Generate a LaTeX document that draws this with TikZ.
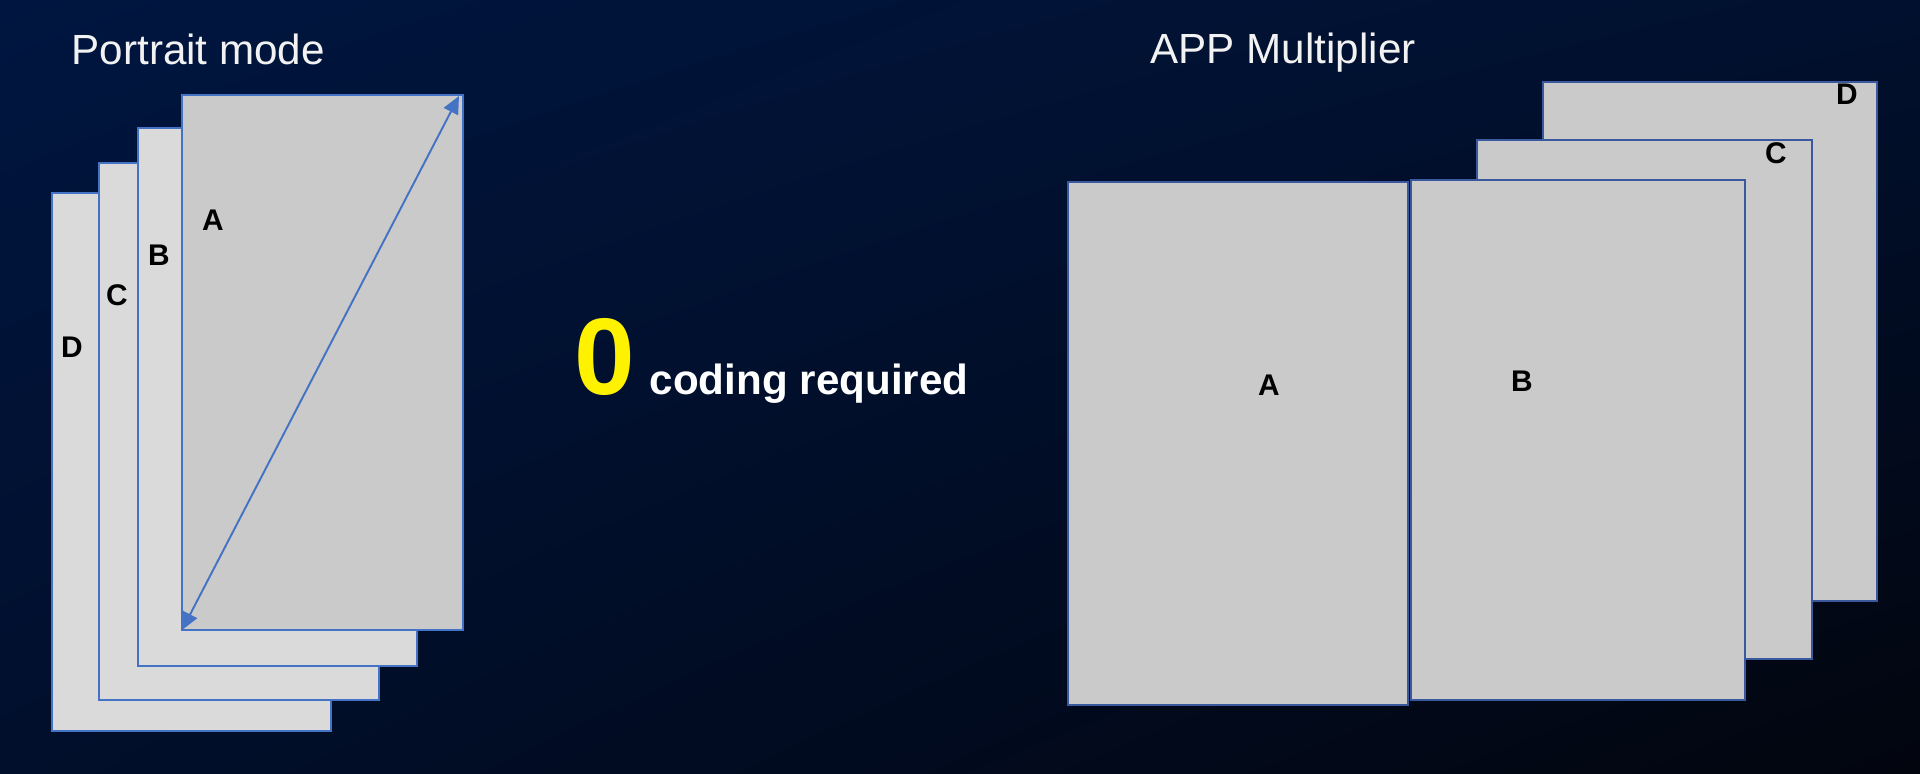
\documentclass[tikz,border=0pt]{standalone}
\usepackage{fontspec}
\setmainfont{Liberation Sans}
\usepackage{xcolor}
\usetikzlibrary{arrows.meta, positioning, shadings}

\definecolor{bgtl}{RGB}{0,22,64}
\definecolor{bgtr}{RGB}{1,16,46}
\definecolor{bgbl}{RGB}{1,15,44}
\definecolor{bgbr}{RGB}{2,5,14}
\definecolor{edge}{RGB}{68,114,196}
\definecolor{edgedark}{RGB}{58,88,158}
\definecolor{pagelight}{RGB}{218,218,218}
\definecolor{pagegrey}{RGB}{202,202,202}
\definecolor{titlewhite}{RGB}{242,242,242}

\tikzset{
    page/.style={draw=edge, line width=0.5pt, inner sep=0pt, outer sep=0pt, anchor=north west},
    multpage/.style={page, draw=edgedark, line width=0.6pt, fill=pagegrey},
    letter/.style={font=\fontsize{8.5}{10}\selectfont\bfseries, text=black, inner sep=0pt},
    heading/.style={font=\fontsize{12}{14}\selectfont, text=titlewhite, inner sep=0pt}
}

\begin{document}
\begin{tikzpicture}
                        \shade[upper left=bgtl, upper right=bgtr, lower left=bgbl, lower right=bgbr]
                        (0, 0) rectangle (19.2, -7.73);
                        \useasboundingbox (0, 0) rectangle (19.2, -7.73);

                        % portrait mode stack
                        \node[page, fill=pagelight, minimum width=2.79cm, minimum height=5.38cm] (pd) at (0.52, -1.93) {};
                        \node[page, fill=pagelight, minimum width=2.80cm, minimum height=5.37cm] (pc) at (0.99, -1.63) {};
                        \node[page, fill=pagelight, minimum width=2.79cm, minimum height=5.38cm] (pb) at (1.38, -1.28) {};
                        \node[page, fill=pagegrey, minimum width=2.81cm, minimum height=5.35cm] (pa) at (1.82, -0.95) {};

                        \node[letter] (la) at (2.13, -2.20) {A};
                        \node[letter] (lb) at (1.59, -2.55) {B};
                        \node[letter] (lc) at (1.17, -2.95) {C};
                        \node[letter] (ld) at (0.72, -3.47) {D};

                        \draw[edge, line width=0.55pt, {Triangle[length=5pt, width=4.5pt]}-{Triangle[length=5pt, width=4.5pt]}]
                        (pa.south west) -- ([shift={(-0.04, -0.01)}]pa.north east);

                        \node[heading, anchor=west] (portrait) at (0.71, -0.49) {Portrait mode};

                        % zero coding
                        \node[font=\fontsize{31}{34}\selectfont\bfseries, text=yellow, inner sep=0pt, anchor=base] (zero) at (6.05, -3.94) {0};
                        \node[font=\fontsize{12}{14}\selectfont\bfseries, text=white, inner sep=0pt, anchor=base west] (coding) at (6.49, -3.94) {coding required};

                        % app multiplier stack
                        \node[multpage, minimum width=3.34cm, minimum height=5.19cm] (md) at (15.43, -0.82) {};
                        \node[multpage, minimum width=3.35cm, minimum height=5.19cm] (mc) at (14.77, -1.40) {};
                        \node[multpage, minimum width=3.34cm, minimum height=5.20cm] (mb) at (14.11, -1.80) {};
                        \node[multpage, minimum width=3.40cm, minimum height=5.23cm] (ma) at (10.68, -1.82) {};

                        \node[letter] (ma-l) at (12.69, -3.85) {A};
                        \node[letter] (mb-l) at (15.22, -3.81) {B};
                        \node[letter] (mc-l) at (17.76, -1.53) {C};
                        \node[letter] (md-l) at (18.47, -0.94) {D};

                        \node[heading, anchor=west] (multiplier) at (11.50, -0.53) {APP Multiplier};
                    \end{tikzpicture}
\end{document}
